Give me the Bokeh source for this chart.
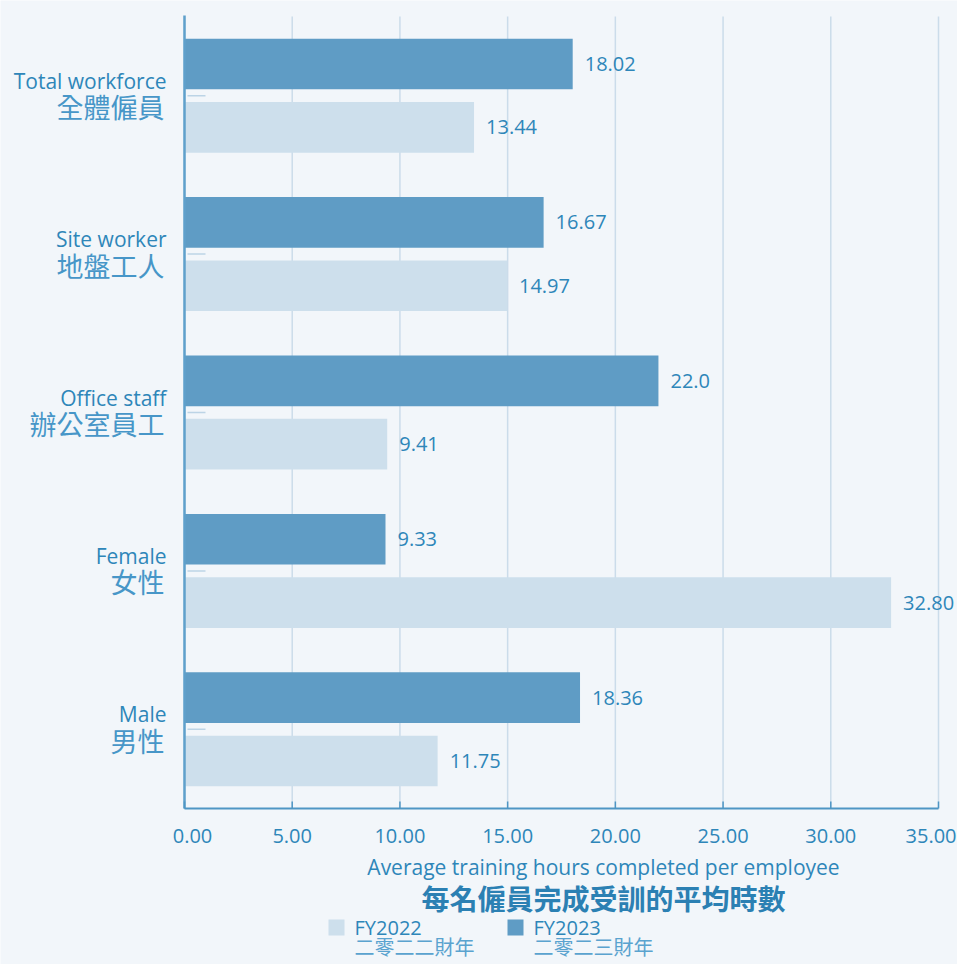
from bokeh.plotting import figure
from bokeh.models import ColumnDataSource, Range1d
from bokeh.core.properties import value
from bokeh.transform import dodge
from bokeh.embed import file_html
from bokeh.resources import INLINE

# ---------------- data ----------------
categories_en = ["Total workforce", "Site worker", "Office staff", "Female", "Male"]
categories_zh = ["全體僱員", "地盤工人", "辦公室員工", "女性", "男性"]
fy2023 = [18.02, 16.67, 22.0, 9.33, 18.36]
fy2023_labels = ["18.02", "16.67", "22.0", "9.33", "18.36"]
fy2022 = [13.44, 14.97, 9.41, 32.80, 11.75]
fy2022_labels = ["13.44", "14.97", "9.41", "32.80", "11.75"]
x_ticks = [0, 5, 10, 15, 20, 25, 30, 35]
x_tick_labels = ["0.00", "5.00", "10.00", "15.00", "20.00", "25.00", "30.00", "35.00"]
x_title_en = "Average training hours completed per employee"
x_title_zh = "每名僱員完成受訓的平均時數"
series_en = ["FY2022", "FY2023"]
series_zh = ["二零二二財年", "二零二三財年"]

# ---------------- style ----------------
BG = "#f2f6fa"
DARK = "#5f9cc5"
LIGHT = "#cddfec"
TXT = "#2e86b9"
TXT_ZH = "#4796c8"
FONT = value("Open Sans")
FONT_ZH = value("Noto Sans CJK TC")

# ---------------- geometry (canvas pixels) ----------------
W, H = 957, 964
X0 = 184          # canvas x of value 0
PX = 754 / 35     # pixels per hour
Y0 = 808          # canvas y of the category baseline
PY = 792 / 5      # pixels per category band


def dx(px):
    return px / PX


def dy(px):
    return px / PY


def ycan(cy):
    return (Y0 - cy) / PY


def xcan(cx):
    return (cx - X0) / PX


n = len(categories_en)
ypos = [n - i - 0.5 for i in range(n)]

p = figure(width=W, height=H, output_backend="svg", toolbar_location=None,
           x_range=Range1d(-X0 / PX, (W - X0) / PX),
           y_range=Range1d(-(H - Y0) / PY, Y0 / PY),
           x_axis_location=None, y_axis_location=None,
           min_border=0)
p.background_fill_color = BG
p.border_fill_color = BG
p.outline_line_color = None
p.grid.visible = False

src = ColumnDataSource(dict(
    y=ypos, en=categories_en, zh=categories_zh,
    v23=fy2023, l23=fy2023_labels, v22=fy2022, l22=fy2022_labels,
    zero=[0] * n,
))
nt = len(x_ticks)
tsrc = ColumnDataSource(dict(
    x=x_ticks, lab=x_tick_labels, lo=[0] * nt, hi=[n] * nt,
    align=["center"] * (nt - 1) + ["right"],
    off=[8] + [0] * (nt - 2) + [18],
))

# vertical grid lines
p.segment(x0="x", y0="lo", x1="x", y1="hi", source=tsrc,
          line_color="#cbdcea", line_width=1.5)

# bars
p.hbar(y=dodge("y", 0.2, range=p.y_range), left="zero", right="v23", height=0.32,
       source=src, fill_color=DARK, line_color=None)
p.hbar(y=dodge("y", -0.2, range=p.y_range), left="zero", right="v22", height=0.32,
       source=src, fill_color=LIGHT, line_color=None)

# axes lines
p.segment(x0=[0], y0=[0], x1=[0], y1=[n + dy(1)], line_color="#5fa0cb", line_width=2.5)
p.segment(x0=[0], y0=[0], x1=[x_ticks[-1]], y1=[0], line_color="#4f96c4", line_width=2)
# x ticks (inward)
p.segment(x0="x", y0="lo", x1="x", y1=dy(7), source=tsrc, line_color="#4f96c4", line_width=1.5)
# y ticks (inward, light)
p.segment(x0=dx(3), y0="y", x1=dx(21), y1="y", source=src, line_color="#bcd4e6", line_width=1.5)

# x tick labels
p.text(x="x", y=ycan(835), text="lab", source=tsrc, text_align="align", x_offset="off",
       text_baseline="middle", text_font=FONT, text_font_size="20px", text_color=TXT)

# value labels
for vcol, lcol, off in [("v23", "l23", 0.2), ("v22", "l22", -0.2)]:
    p.text(x=vcol, y=dodge("y", off, range=p.y_range), text=lcol, source=src,
           x_offset=12, text_baseline="middle", text_align="left",
           text_font=FONT, text_font_size="20px", text_color=TXT)

# category labels
p.text(x="zero", y=dodge("y", dy(15), range=p.y_range), text="en", source=src,
       x_offset=-18, text_baseline="middle", text_align="right",
       text_font=FONT, text_font_size="21px", text_color=TXT)
p.text(x="zero", y=dodge("y", -dy(11), range=p.y_range), text="zh", source=src,
       x_offset=-20, text_baseline="middle", text_align="right",
       text_font=FONT_ZH, text_font_size="27px", text_color=TXT_ZH)

# axis titles
p.text(x=[xcan(603)], y=[ycan(866)], text=[x_title_en], text_align="center",
       text_baseline="middle", text_font=FONT, text_font_size="21px", text_color=TXT)
p.text(x=[xcan(603)], y=[ycan(897)], text=[x_title_zh], text_align="center",
       text_baseline="middle", text_font=FONT_ZH, text_font_size="28px",
       text_font_style="bold", text_color="#2b80b3")

# legend
leg = ColumnDataSource(dict(
    sx=[xcan(336), xcan(515)], tx=[xcan(354), xcan(533)],
    color=[LIGHT, DARK], en=series_en, zh=series_zh,
))
p.scatter(x="sx", y=ycan(927), marker="square", size=16, source=leg,
          fill_color="color", line_color=None)
p.text(x="tx", y=ycan(927), text="en", source=leg, text_align="left",
       text_baseline="middle", text_font=FONT, text_font_size="20px", text_color=TXT)
p.text(x="tx", y=ycan(946), text="zh", source=leg, text_align="left",
       text_baseline="middle", text_font=FONT_ZH, text_font_size="20px", text_color="#5aa3cf")

open("out.html", "w").write(file_html(p, INLINE))
